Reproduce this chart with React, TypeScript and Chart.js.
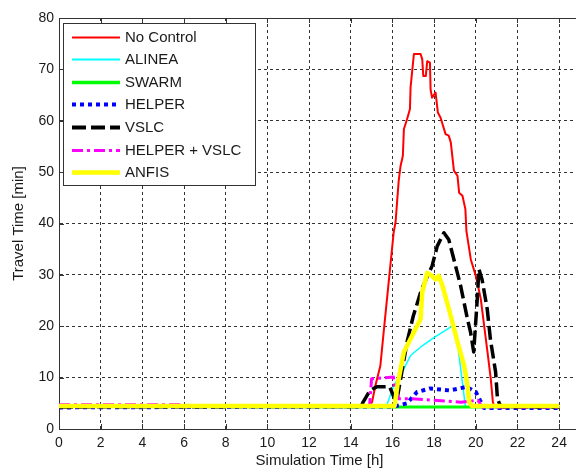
import React, { useEffect, useRef } from 'react';
import { Chart, registerables } from 'chart.js';

Chart.register(...registerables);

// ---------- data ----------
const X_TICKS = [0, 2, 4, 6, 8, 10, 12, 14, 16, 18, 20, 22, 24];
const Y_TICKS = [0, 10, 20, 30, 40, 50, 60, 70, 80];

const SERIES_NAMES = ['No Control', 'ALINEA', 'SWARM', 'HELPER', 'VSLC', 'HELPER + VSLC', 'ANFIS'];

const noControlX = [0, 14.8, 15.02, 15.18, 15.42, 15.58, 15.82, 16.06, 16.15, 16.3, 16.39, 16.5, 16.55, 16.7, 16.84, 16.87, 17.03, 17.35, 17.43, 17.48, 17.6, 17.67, 17.8, 17.83, 17.9, 18.07, 18.18, 18.31, 18.55, 18.7, 18.8, 18.95, 19.12, 19.2, 19.36, 19.5, 19.55, 19.76, 20.0, 20.24, 20.4, 20.56, 20.72, 20.82, 20.9, 24];
const noControlY = [4.3, 4.4, 5.2, 8.4, 12.3, 18.9, 28.6, 38.3, 40.3, 48.3, 51.2, 53.2, 58.4, 60.3, 62.3, 66.5, 73, 73, 72, 68.7, 68.7, 71.6, 71.3, 66.1, 64.5, 65.5, 61.6, 60.6, 57.4, 57.1, 55.8, 50.3, 49.3, 46, 45.4, 42.8, 38.5, 33, 29.8, 25.3, 20.1, 15, 9.7, 5.2, 4.3, 4.3];

const alineaX = [0, 15.7, 16.06, 16.55, 16.87, 17.43, 17.99, 18.9, 19.05, 19.5, 24];
const alineaY = [4.3, 4.3, 8.4, 11.7, 14.3, 16.2, 17.8, 20.1, 19, 4.4, 4.2];

const swarmX = [0, 16, 20, 24];
const swarmY = [4.4, 4.3, 4.3, 4.2];

const helperX = [0, 16.1, 16.7, 17.18, 17.8, 18.75, 19.55, 20.0, 20.2, 20.4, 24];
const helperY = [4.2, 4.4, 5, 7.2, 7.9, 7.5, 8.2, 7.2, 5.6, 4.1, 4.1];

const vslcX = [0, 14.5, 14.6, 14.92, 15.24, 15.87, 16.1, 16.2, 16.7, 17.0, 17.4, 17.9, 18.15, 18.47, 18.7, 18.95, 19.27, 19.6, 19.75, 19.9, 20.07, 20.15, 20.3, 20.55, 20.7, 20.95, 21.04, 21.2, 24];
const vslcY = [4.3, 4.4, 5.3, 7.5, 8.2, 8.2, 5.9, 5.3, 16.9, 22, 27.2, 31.7, 35.6, 38.2, 36.9, 33, 27.9, 21.4, 18.8, 15, 25.3, 31.1, 29.1, 23.3, 17.5, 11.1, 5.9, 4.3, 4.3];

const helperVslcX = [0, 5.8, 6.0, 14.9, 15.0, 16.05, 16.1, 16.3, 16.9, 18.0, 19.3, 20.1, 20.3, 24];
const helperVslcY = [4.7, 4.7, 4.4, 4.4, 9.8, 10.1, 8.4, 5.9, 5.9, 5.6, 5.2, 5.6, 4.3, 4.3];

const anfisX = [0, 16.1, 16.24, 16.55, 16.95, 17.35, 17.43, 17.67, 17.9, 18.07, 18.23, 18.4, 18.8, 19.12, 19.44, 19.6, 19.68, 19.8, 24];
const anfisY = [4.5, 4.5, 8.5, 15, 18.2, 21.4, 26.6, 30.4, 29.8, 29.1, 29.8, 27.9, 22, 16.9, 12.4, 8.5, 5.3, 4.5, 4.5];

// ---------- styles ----------
const FONT = "'Liberation Sans', Arial, Helvetica, sans-serif";
const TEXT_COLOR = '#1a1a1a';
const AXIS_COLOR = '#333333';

const STYLES = [
  { color: '#ff0000', width: 2, dash: [] as number[], lw: 2 },
  { color: '#00ffff', width: 1.5, dash: [] as number[], lw: 2 },
  { color: '#00ff00', width: 3, dash: [] as number[], lw: 3.5 },
  { color: '#0000ff', width: 4, dash: [4, 4], lw: 4 },
  { color: '#000000', width: 3.5, dash: [14, 5], lw: 4 },
  { color: '#ff00ff', width: 3, dash: [11, 4, 3, 4], lw: 3 },
  { color: '#ffff00', width: 4.5, dash: [] as number[], lw: 4.5 },
];

const SERIES_X = [noControlX, alineaX, swarmX, helperX, vslcX, helperVslcX, anfisX];
const SERIES_Y = [noControlY, alineaY, swarmY, helperY, vslcY, helperVslcY, anfisY];

const framePlugin = {
  id: 'framePlugin',
  afterDatasetsDraw(chart: any) {
    const { ctx, chartArea: a, scales } = chart;
    ctx.save();
    ctx.setLineDash([]);
    ctx.strokeStyle = AXIS_COLOR;
    ctx.lineWidth = 1;
    ctx.beginPath();
    const top = Math.round(a.top) + 0.5;
    ctx.moveTo(a.left, top);
    ctx.lineTo(a.right, top);
    for (const t of X_TICKS) {
      const px = Math.round(scales.x.getPixelForValue(t)) + 0.5;
      ctx.moveTo(px, a.bottom);
      ctx.lineTo(px, a.bottom - 5);
      ctx.moveTo(px, a.top);
      ctx.lineTo(px, a.top + 5);
    }
    for (const t of Y_TICKS) {
      const py = Math.round(scales.y.getPixelForValue(t)) + 0.5;
      ctx.moveTo(a.left, py);
      ctx.lineTo(a.left + 5, py);
    }
    ctx.stroke();

    // legend box
    const lx = a.left + 4;
    const ly = a.top + 5;
    const lw = 192;
    const lh = 162;
    ctx.fillStyle = '#ffffff';
    ctx.fillRect(lx, ly, lw, lh);
    ctx.strokeStyle = AXIS_COLOR;
    ctx.lineWidth = 1;
    ctx.strokeRect(Math.round(lx) + 0.5, Math.round(ly) + 0.5, lw, lh);
    const rowH = 22.6;
    ctx.font = `15px ${FONT}`;
    ctx.textBaseline = 'middle';
    ctx.textAlign = 'left';
    SERIES_NAMES.forEach((name, i) => {
      const s = STYLES[i];
      const cy = ly + 13.5 + i * rowH;
      ctx.save();
      ctx.strokeStyle = s.color;
      ctx.lineWidth = s.lw;
      ctx.setLineDash(s.dash);
      ctx.lineCap = 'butt';
      ctx.beginPath();
      ctx.moveTo(lx + 9, Math.round(cy) + 0.5);
      ctx.lineTo(lx + 57, Math.round(cy) + 0.5);
      ctx.stroke();
      ctx.restore();
      ctx.fillStyle = TEXT_COLOR;
      ctx.fillText(name, lx + 62, cy + 1);
    });
    ctx.restore();
  },
};

export default function App() {
  const ref = useRef<HTMLCanvasElement | null>(null);

  useEffect(() => {
    if (!ref.current) return;
    const datasets = SERIES_NAMES.map((name, i) => ({
      label: name,
      data: SERIES_X[i].map((x, j) => ({ x, y: SERIES_Y[i][j] })),
      borderColor: STYLES[i].color,
      backgroundColor: STYLES[i].color,
      borderWidth: STYLES[i].width,
      borderDash: STYLES[i].dash,
      pointRadius: 0,
      tension: 0,
      fill: false,
      borderJoinStyle: 'round' as const,
      order: SERIES_NAMES.length - 1 - i,
    }));

    const chart = new Chart(ref.current, {
      type: 'line',
      data: { datasets },
      options: {
        animation: false,
        responsive: false,
        devicePixelRatio: 1,
        layout: { padding: { top: 18, right: 10, left: 0, bottom: 0 } },
        plugins: { legend: { display: false }, tooltip: { enabled: false } },
        scales: {
          x: {
            type: 'linear',
            min: 0,
            max: 25,
            afterBuildTicks: (scale: any) => {
              scale.ticks = X_TICKS.map((v) => ({ value: v }));
            },
            afterFit: (scale: any) => {
              scale.height = 41;
            },
            ticks: { color: TEXT_COLOR, font: { family: FONT, size: 14 }, padding: 6, maxRotation: 0, autoSkip: false },
            grid: { color: AXIS_COLOR, lineWidth: 1, drawTicks: false },
            border: { display: true, color: AXIS_COLOR, width: 1, dash: [3, 3] },
            title: { display: true, text: 'Simulation Time [h]', color: TEXT_COLOR, font: { family: FONT, size: 15 }, padding: { top: 0, bottom: 0 } },
          },
          y: {
            type: 'linear',
            min: 0,
            max: 80,
            afterBuildTicks: (scale: any) => {
              scale.ticks = Y_TICKS.map((v) => ({ value: v }));
            },
            afterFit: (scale: any) => {
              scale.width = 59;
            },
            ticks: { color: TEXT_COLOR, font: { family: FONT, size: 14 }, padding: 5, autoSkip: false },
            grid: { color: AXIS_COLOR, lineWidth: 1, drawTicks: false },
            border: { display: true, color: AXIS_COLOR, width: 1, dash: [3, 3] },
            title: { display: true, text: 'Travel Time [min]', color: TEXT_COLOR, font: { family: FONT, size: 15 }, padding: { top: 10, bottom: 0 } },
          },
        },
      },
      plugins: [framePlugin],
    });
    return () => chart.destroy();
  }, []);

  return (
    <div style={{ position: 'fixed', left: 0, top: 0, width: 576, height: 470, overflow: 'hidden', background: '#ffffff' }}>
      <canvas ref={ref} width={590} height={470} style={{ display: 'block', width: 590, height: 470 }} />
    </div>
  );
}
